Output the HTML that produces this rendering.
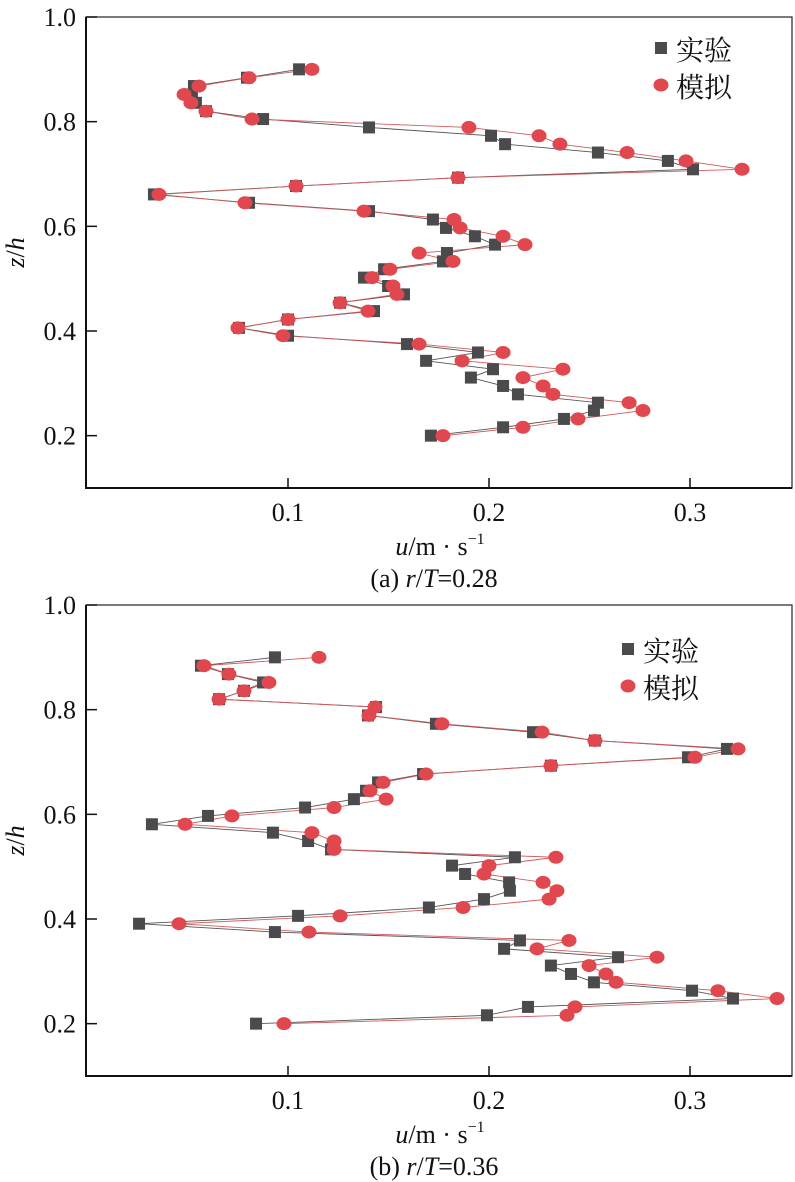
<!DOCTYPE html>
<html><head><meta charset="utf-8">
<style>
html,body{margin:0;padding:0;background:#fff;}
svg{display:block;}
svg text{font-family:"Liberation Serif","Times New Roman","Noto Serif CJK SC",serif;fill:#111;}
svg text.cjk{font-family:"Noto Serif CJK SC","Liberation Serif",serif;}
</style></head>
<body>
<svg id="chart" width="795" height="1182" viewBox="0 0 795 1182" xmlns="http://www.w3.org/2000/svg" font-family="Liberation Serif, serif"></svg>
<script>
const zLevels = [0.900,0.884,0.868,0.852,0.836,0.820,0.805,0.789,0.773,0.757,0.741,0.725,0.709,0.693,0.677,0.661,0.645,0.629,0.613,0.597,0.581,0.565,0.549,0.533,0.518,0.502,0.486,0.470,0.454,0.438,0.422,0.406,0.391,0.375,0.359,0.343,0.327,0.311,0.295,0.279,0.263,0.248,0.232,0.216,0.200];
const expA = [0.1055,0.0796,0.0532,0.0522,0.0542,0.0592,0.0876,0.1403,0.201,0.208,0.2542,0.289,0.3015,0.1846,0.104,0.0333,0.0806,0.1403,0.1721,0.1786,0.193,0.203,0.1791,0.1771,0.1478,0.1378,0.1498,0.1577,0.1259,0.1428,0.1,0.0756,0.1,0.1592,0.1945,0.1687,0.202,0.191,0.207,0.2144,0.2542,0.2522,0.2373,0.207,0.1711];
const simA = [0.1119,0.0806,0.0557,0.0483,0.0517,0.0592,0.0821,0.19,0.2249,0.2353,0.2687,0.298,0.3259,0.1846,0.104,0.0358,0.0786,0.1378,0.1826,0.1856,0.207,0.2179,0.1652,0.1821,0.1507,0.1418,0.1522,0.1542,0.1259,0.1398,0.1,0.0751,0.0975,0.1652,0.207,0.1866,0.2368,0.2169,0.2269,0.2318,0.2697,0.2766,0.2443,0.2169,0.1771];
const expB = [0.0935,0.0567,0.0701,0.0876,0.0781,0.0657,0.1438,0.1398,0.1736,0.2219,0.2527,0.3184,0.299,0.2308,0.1672,0.1448,0.1388,0.1328,0.1085,0.0602,0.0323,0.0925,0.11,0.1214,0.2129,0.1816,0.1881,0.21,0.2104,0.1975,0.1701,0.105,0.0259,0.0935,0.2154,0.2075,0.2642,0.2308,0.2408,0.2522,0.301,0.3214,0.2194,0.199,0.0841];
const simB = [0.1154,0.0582,0.0706,0.0905,0.0781,0.0657,0.1433,0.1403,0.1766,0.2264,0.2527,0.3239,0.3025,0.2308,0.1687,0.1473,0.1408,0.1488,0.1229,0.0721,0.0488,0.1119,0.1229,0.1229,0.2333,0.2,0.1975,0.2269,0.2338,0.2299,0.1871,0.1259,0.0458,0.1104,0.2398,0.2239,0.2836,0.2498,0.2582,0.2632,0.3139,0.3433,0.2428,0.2388,0.098];
const xTicks = [0.1,0.2,0.3];
const xTickLabels = ["0.1","0.2","0.3"];
const yTicks = [0.2,0.4,0.6,0.8,1.0];
const yTickLabels = ["0.2","0.4","0.6","0.8","1.0"];
const captions = ["(a) ","(b) "];
const captionVals = ["=0.28","=0.36"];

const NS="http://www.w3.org/2000/svg";
const svg=document.getElementById('chart');
const SERIF="Liberation Serif, Times New Roman, serif";
function mk(tag,attrs,parent){const e=document.createElementNS(NS,tag);for(const k in attrs)e.setAttribute(k,attrs[k]);if(tag==='text'&&!attrs['font-family'])e.setAttribute('font-family',SERIF);(parent||svg).appendChild(e);return e;}

function panel(idx,top,exp,sim,legX,legY){
  const L=86,R=792,T=top,B=top+471;
  const xs=u=>L+1+u*2010;
  const ys=z=>B-(z-0.1)*(B-T)/0.9;
  const g=mk('g',{});
  
  
  const box=mk('rect',{x:L,y:T,width:R-L,height:B-T,fill:'none',stroke:'#222','stroke-width':1.2},g);
  
  
  const la=mk('path',{d:`M${L},${T}V${B}H${R}`,fill:'none',stroke:'#111','stroke-width':2},g);
  
  
  xTicks.forEach((v,i)=>{
    const x=xs(v);
    const t=mk('line',{x1:x,x2:x,y1:B,y2:B-10,stroke:'#111','stroke-width':1.5},g);
    
    
    const tl=mk('text',{x:x,y:B+33,'text-anchor':'middle','font-size':26},g);
    tl.textContent=xTickLabels[i];
    
    
  });
  yTicks.forEach((v,i)=>{
    const y=ys(v);
    const t=mk('line',{x1:L,x2:L+11,y1:y,y2:y,stroke:'#111','stroke-width':1.5},g);
    
    
    const tl=mk('text',{x:76,y:y+9,'text-anchor':'end','font-size':26},g);
    tl.textContent=yTickLabels[i];
    
    
  });
  const yt=mk('text',{x:0,y:0,'font-size':26,transform:`translate(24,${(T+B)/2}) rotate(-90)`,'text-anchor':'middle'},g);
  yt.innerHTML='<tspan font-style="italic">z</tspan>/<tspan font-style="italic">h</tspan>';
  
  
  const xt=mk('text',{x:440,y:B+67,'text-anchor':'middle','font-size':26},g);
  xt.innerHTML='<tspan font-style="italic">u</tspan>/m · s<tspan font-size="16" dy="-11">−1</tspan>';
  
  
  const cp=mk('text',{x:434,y:B+99,'text-anchor':'middle','font-size':26},g);
  cp.innerHTML=captions[idx]+'<tspan font-style="italic">r</tspan>/<tspan font-style="italic">T</tspan>'+captionVals[idx];
  
  
  const pe=mk('polyline',{points:exp.map((u,i)=>xs(u)+','+ys(zLevels[i])).join(' '),fill:'none',stroke:'#555','stroke-width':0.9},g);
  
  
  const ps=mk('polyline',{points:sim.map((u,i)=>xs(u)+','+ys(zLevels[i])).join(' '),fill:'none',stroke:'#d25a5a','stroke-width':0.9},g);
  
  
  exp.forEach((u,i)=>{
    const r=mk('rect',{x:xs(u)-6,y:ys(zLevels[i])-6,width:12,height:12,fill:'#4b4b4d'},g);
    
    
  });
  sim.forEach((u,i)=>{
    const c=mk('ellipse',{cx:xs(u),cy:ys(zLevels[i]),rx:7.5,ry:6.5,fill:'#e0474f'},g);
    
    
  });
  const lg=mk('g',{},g);
  
  
  const s1=mk('rect',{x:legX-6,y:legY-6,width:12,height:12,fill:'#4b4b4d'},lg);
  
  
  const t1=mk('text',{x:legX+15,y:legY+12,'font-size':28,'class':'cjk','font-family':'Noto Serif CJK SC, serif'},lg);
  t1.textContent='实验';
  
  
  const s2=mk('ellipse',{cx:legX,cy:legY+37,rx:7.5,ry:6.5,fill:'#e0474f'},lg);
  
  
  const t2=mk('text',{x:legX+15,y:legY+49,'font-size':28,'class':'cjk','font-family':'Noto Serif CJK SC, serif'},lg);
  t2.textContent='模拟';
  
  
}
panel(0,17,expA,simA,661,48);
panel(1,605,expB,simB,628,649);
</script>
</body></html>
